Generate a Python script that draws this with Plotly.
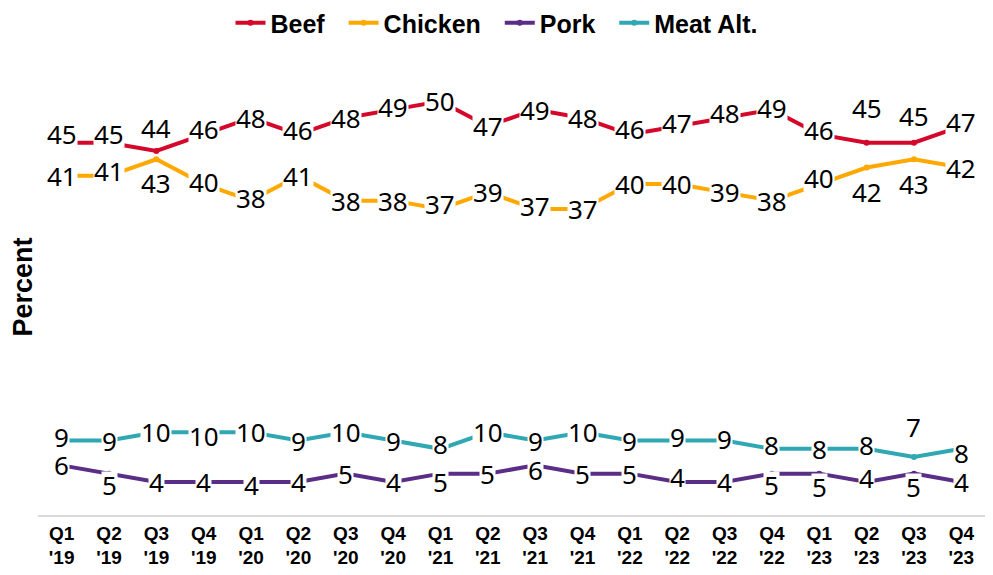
import plotly.graph_objects as go

quarters = ["Q1<br>'19", "Q2<br>'19", "Q3<br>'19", "Q4<br>'19",
            "Q1<br>'20", "Q2<br>'20", "Q3<br>'20", "Q4<br>'20",
            "Q1<br>'21", "Q2<br>'21", "Q3<br>'21", "Q4<br>'21",
            "Q1<br>'22", "Q2<br>'22", "Q3<br>'22", "Q4<br>'22",
            "Q1<br>'23", "Q2<br>'23", "Q3<br>'23", "Q4<br>'23"]

beef = [45, 45, 44, 46, 48, 46, 48, 49, 50, 47, 49, 48, 46, 47, 48, 49, 46, 45, 45, 47]
chicken = [41, 41, 43, 40, 38, 41, 38, 38, 37, 39, 37, 37, 40, 40, 39, 38, 40, 42, 43, 42]
pork = [6, 5, 4, 4, 4, 4, 5, 4, 5, 5, 6, 5, 5, 4, 4, 5, 5, 4, 5, 4]
meat_alt = [9, 9, 10, 10, 10, 9, 10, 9, 8, 10, 9, 10, 9, 9, 9, 8, 8, 8, 7, 8]

# label offsets in screen pixels (positive = downward)
beef_off = [-9, -9, -23, -5, 0, -4, 0, -3, 0, 0, 0, 0, -5, -3, -5, -2, -4, -35, -27, -4]
chicken_off = [0, -5, 24, -2, -3, 0, 0, 0, -5, 0, -3, 0, 0, 0, 0, 0, -6, 24, 25, 0]
pork_off = [0, 11, 0, 0, 3, 0, 0, 0, 8, 0, 5, 0, 0, -5, 0, 11, 13, -4, 13, 0]
meat_off = [-4, 0, 0, 4, 0, 0, 0, 0, -5, 0, 0, 0, 0, -4, -2, -4, 0, -4, -30, 4]

series = [
    ("Beef", beef, "#d4082b", beef_off, "&nbsp;&nbsp;"),
    ("Chicken", chicken, "#ffa800", chicken_off, "&nbsp;&nbsp;"),
    ("Pork", pork, "#5a2d86", pork_off, "&nbsp;&nbsp;"),
    ("Meat Alt.", meat_alt, "#2fa8b3", meat_off, ""),
]

x = list(range(len(quarters)))

fig = go.Figure()
annotations = []
for name, vals, color, offs, pad in series:
    fig.add_trace(go.Scatter(
        x=x, y=vals, mode="lines+markers",
        name=name + pad,
        line=dict(color=color, width=4),
        marker=dict(color=color, size=6),
        hoverinfo="skip",
    ))
    for xi, v, o in zip(x, vals, offs):
        annotations.append(dict(
            x=xi, y=v, xref="x", yref="y", text=str(v), showarrow=False,
            yshift=-o, bgcolor="white", borderpad=0, height=26,
            font=dict(family="Noto Sans", size=26, color="black"),
        ))

annotations.append(dict(
    x=0, y=0.5, xref="paper", yref="paper", text="<b>Percent</b>",
    textangle=-90, showarrow=False, xshift=-16, xanchor="center", yanchor="middle",
    font=dict(family="Liberation Sans", size=27, color="black"),
))

fig.update_layout(
    width=993, height=575,
    margin=dict(l=38, r=8, t=60, b=60, autoexpand=False),
    paper_bgcolor="white", plot_bgcolor="white",
    showlegend=True,
    legend=dict(
        orientation="h", xref="container", yref="container",
        x=0.5, xanchor="center", y=1.0, yanchor="top",
        font=dict(family="Liberation Sans", size=25, color="black", weight="bold"),
        itemwidth=30, tracegroupgap=0,
    ),
    annotations=annotations,
    xaxis=dict(
        tickmode="array", tickvals=x, ticktext=["<b>" + q + "</b>" for q in quarters],
        range=[-0.5, 19.5], showgrid=False, zeroline=False,
        showline=True, linecolor="#d9d9d9", linewidth=1.5,
        ticks="", tickfont=dict(family="Liberation Sans", size=19, color="black"),
        fixedrange=True,
    ),
    yaxis=dict(range=[0, 55], visible=False, showgrid=False, zeroline=False, fixedrange=True),
)

fig.write_html("out.html")
